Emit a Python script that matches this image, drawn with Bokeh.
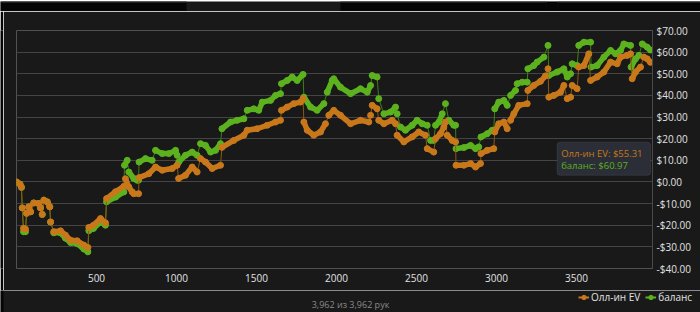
from bokeh.plotting import figure
from bokeh.models import FixedTicker, Label, BoxAnnotation, Legend, LegendItem
from bokeh.layouts import column, row
from bokeh.embed import file_html
from bokeh.resources import INLINE

# ---- data (hand number, dollars) ----
ev_points = [
    (0, 0.0), (22, -1.0), (31, -2.5), (36, -12.0), (44, -21.4), (56, -21.8), (63, -14.5),
    (77, -11.5), (88, -13.8), (108, -9.7), (139, -10.0), (150, -12.0), (161, -15.0),
    (171, -8.4), (192, -9.2), (208, -11.5), (213, -18.5), (233, -23.0), (275, -22.6),
    (306, -24.6), (338, -26.9), (379, -27.2), (421, -29.2), (446, -30.3), (452, -21.0),
    (481, -20.0), (525, -16.9), (556, -18.9), (563, -7.7), (619, -4.5), (671, -2.0),
    (681, 1.5), (702, -2.3), (723, -4.6), (733, -5.4), (763, -5.4), (766, 2.0),
    (827, 3.8), (869, 6.9), (911, 5.4), (973, 6.2), (1004, 7.7), (1013, 1.6),
    (1056, 3.1), (1098, 6.9), (1129, 4.6), (1150, 10.8), (1181, 9.2), (1223, 6.2),
    (1275, 7.7), (1284, 16.0), (1358, 19.2), (1421, 21.6), (1442, 23.9), (1504, 24.6),
    (1567, 26.2), (1619, 27.7), (1650, 28.5), (1656, 33.1), (1692, 34.6), (1733, 36.2),
    (1775, 36.9), (1791, 38.5), (1796, 27.7), (1817, 23.9), (1858, 21.6), (1900, 23.1),
    (1931, 26.9), (1952, 30.8), (1983, 33.1), (2025, 30.8), (2088, 26.9), (2150, 28.5),
    (2202, 27.7), (2213, 30.8), (2223, 35.4), (2254, 33.8), (2264, 28.5), (2296, 26.9),
    (2348, 28.5), (2369, 26.9), (2379, 21.6), (2421, 18.5), (2473, 20.8), (2514, 23.1),
    (2556, 21.6), (2567, 15.4), (2608, 13.8), (2619, 20.0), (2650, 22.3), (2671, 25.4),
    (2681, 27.7), (2692, 21.6), (2723, 19.2), (2744, 18.5), (2747, 7.7), (2796, 7.7),
    (2838, 8.5), (2869, 6.9), (2900, 8.5), (2903, 13.1), (2942, 14.6), (2983, 15.4),
    (2989, 23.1), (3014, 26.9), (3046, 27.7), (3067, 24.6), (3088, 28.5), (3108, 31.5),
    (3139, 35.4), (3192, 36.2), (3196, 42.3), (3233, 44.6), (3275, 46.5), (3306, 49.0),
    (3322, 52.3), (3327, 39.2), (3358, 40.0), (3400, 41.5), (3421, 44.6), (3442, 38.5),
    (3463, 39.2), (3473, 44.6), (3504, 43.1), (3514, 53.1), (3546, 53.8), (3577, 59.2),
    (3588, 46.9), (3629, 48.5), (3671, 50.8), (3713, 55.4), (3754, 54.6), (3775, 57.7),
    (3817, 58.5), (3838, 59.2), (3848, 47.7), (3869, 50.8), (3900, 53.1), (3921, 57.7),
    (3942, 56.9), (3962, 55.31),
]

balance_points = [
    (0, 0.0), (22, -1.0), (31, -2.5), (36, -12.0), (44, -23.0), (56, -23.0), (63, -14.5),
    (77, -11.5), (88, -13.8), (108, -9.7), (139, -10.0), (150, -12.0), (161, -15.0),
    (171, -8.4), (192, -9.2), (208, -11.5), (213, -18.5), (233, -23.5), (275, -23.5),
    (306, -26.0), (338, -28.0), (379, -28.5), (421, -31.0), (446, -32.3), (452, -22.5),
    (481, -21.5), (525, -18.5), (556, -20.0), (563, -9.2), (619, -7.0), (671, -4.6),
    (675, 7.7), (692, 10.0), (702, 4.6), (733, 1.6), (754, 0.8), (763, 0.8), (766, 9.2),
    (806, 10.8), (848, 10.0), (869, 14.6), (911, 13.1), (952, 13.1), (994, 14.6),
    (1004, 12.3), (1014, 9.2), (1056, 12.3), (1098, 13.8), (1129, 12.3), (1150, 17.7),
    (1181, 16.9), (1213, 13.8), (1244, 14.6), (1275, 17.7), (1284, 24.6), (1338, 27.7),
    (1379, 28.5), (1421, 29.2), (1442, 33.1), (1483, 33.8), (1514, 33.1), (1536, 36.9),
    (1588, 37.7), (1619, 40.0), (1650, 40.8), (1656, 45.4), (1692, 46.9), (1723, 48.5),
    (1754, 46.9), (1791, 49.7), (1796, 39.2), (1838, 34.6), (1879, 33.1), (1921, 36.2),
    (1942, 41.5), (1973, 46.9), (1983, 47.7), (2025, 43.8), (2088, 40.8), (2150, 43.1),
    (2192, 41.5), (2213, 44.6), (2223, 49.2), (2254, 48.5), (2264, 38.5), (2296, 31.5),
    (2338, 32.3), (2369, 34.6), (2379, 31.5), (2400, 25.4), (2431, 23.9), (2473, 26.2),
    (2504, 28.5), (2536, 26.9), (2567, 26.2), (2588, 19.2), (2608, 19.2), (2619, 26.2),
    (2640, 27.7), (2661, 31.5), (2681, 36.2), (2702, 28.5), (2733, 26.2), (2744, 26.2),
    (2747, 15.4), (2796, 15.9), (2838, 16.9), (2869, 15.4), (2889, 16.2), (2903, 20.8),
    (2942, 22.3), (2973, 23.9), (2983, 23.9), (2989, 33.8), (3014, 36.9), (3046, 37.7),
    (3067, 35.4), (3088, 40.0), (3119, 42.3), (3129, 45.4), (3161, 46.1), (3192, 46.1),
    (3196, 52.3), (3233, 53.8), (3254, 55.4), (3296, 57.7), (3322, 63.1), (3327, 49.2),
    (3379, 50.8), (3421, 52.3), (3442, 48.5), (3463, 50.0), (3473, 54.6), (3504, 53.8),
    (3514, 63.1), (3546, 64.6), (3588, 64.6), (3591, 53.1), (3629, 53.8), (3671, 57.7),
    (3713, 60.8), (3744, 59.2), (3775, 60.8), (3796, 63.8), (3838, 63.1), (3841, 53.1),
    (3869, 56.9), (3890, 58.5), (3911, 63.8), (3942, 62.3), (3962, 60.97),
]

series_names = ["Олл-ин EV", "баланс"]
x_ticks = [500, 1000, 1500, 2000, 2500, 3000, 3500]
y_ticks = [-40, -30, -20, -10, 0, 10, 20, 30, 40, 50, 60, 70]
y_tick_labels = ["-$40.00", "-$30.00", "-$20.00", "-$10.00", "$0.00", "$10.00",
                 "$20.00", "$30.00", "$40.00", "$50.00", "$60.00", "$70.00"]
tooltip_lines = ["Олл-ин EV: $55.31", "баланс: $60.97"]
footer_text = "3,962 из 3,962 рук"

# ---- styling ----
BG = "#191919"
DARK = "#050505"
ORANGE = "#c8781a"
ORANGE_DARK = "#8d5812"
GREEN = "#5cb21e"
GREEN_DARK = "#3f7f16"
TXT = "#e2e2e2"
FONT = "Open Sans"


def blank(w, h, xr, yr, bg=BG):
    f = figure(width=w, height=h, output_backend="svg", toolbar_location=None,
               x_range=xr, y_range=yr, x_axis_location=None, y_axis_location=None,
               background_fill_color=bg, border_fill_color=bg, margin=0,
               min_border_left=0, min_border_right=0, min_border_top=0, min_border_bottom=0)
    f.outline_line_color = None
    f.grid.visible = False
    return f


# ---- main chart ----
X_MAX = 3975
p = figure(width=697, height=279, output_backend="svg", toolbar_location=None,
           x_range=(0, X_MAX), y_range=(-40, 70), y_axis_location="right",
           background_fill_color=BG, border_fill_color=BG, margin=0,
           min_border_left=13, min_border_right=48, min_border_top=19, min_border_bottom=22)
p.outline_line_color = None
p.xgrid.visible = False
p.ygrid.grid_line_color = "#444444"
p.ygrid.grid_line_width = 1
p.ygrid.ticker = FixedTicker(ticks=y_ticks)

xa = p.xaxis[0]
xa.ticker = FixedTicker(ticks=x_ticks)
xa.axis_line_color = None
xa.major_tick_line_color = None
xa.minor_tick_line_color = None
xa.major_tick_out = 0
xa.major_tick_in = 0
xa.major_label_standoff = 5
xa.major_label_text_color = TXT
xa.major_label_text_font = FONT
xa.major_label_text_font_size = "10px"

ya = p.yaxis[0]
ya.ticker = FixedTicker(ticks=y_ticks)
ya.major_label_overrides = {t: l for t, l in zip(y_ticks, y_tick_labels)}
ya.axis_line_color = "#4a4a4a"
ya.major_tick_line_color = None
ya.minor_tick_line_color = None
ya.major_tick_out = 0
ya.major_tick_in = 0
ya.major_label_standoff = 4
ya.major_label_text_color = TXT
ya.major_label_text_font = FONT
ya.major_label_text_font_size = "10px"


def split_runs(pts):
    """Split the series at steep jumps (drawn thin) so flat runs look dense."""
    runs_x, runs_y = [], []
    cx, cy = [pts[0][0]], [pts[0][1]]
    for (x0, y0), (x1, y1) in zip(pts[:-1], pts[1:]):
        dxp = (x1 - x0) * 0.16
        dyp = abs(y1 - y0) * 2.164
        if dyp > 6 and dyp > 2.5 * dxp:
            runs_x.append(cx)
            runs_y.append(cy)
            cx, cy = [x1], [y1]
        else:
            cx.append(x1)
            cy.append(y1)
    runs_x.append(cx)
    runs_y.append(cy)
    return runs_x, runs_y


def draw(pts, color, dark):
    xs = [a for a, _ in pts]
    ys = [b for _, b in pts]
    p.line(xs, ys, line_color=dark, line_width=1)
    rx, ry = split_runs(pts)
    p.multi_line(rx, ry, line_color=color, line_width=5.5,
                 line_cap="round", line_join="round")
    p.scatter(xs, ys, size=6, fill_color=color, line_color=color)


draw(balance_points, GREEN, GREEN_DARK)
draw(ev_points, ORANGE, ORANGE_DARK)

# tooltip
p.add_layout(BoxAnnotation(left=3379, right=3963, top=18.4, bottom=3.1,
                           fill_color="#2b2e36", fill_alpha=1.0,
                           line_color="#5a5f6b", line_width=1, border_radius=3))
p.add_layout(Label(x=3404, y=13.1, text=tooltip_lines[0], text_color=ORANGE,
                   text_font=FONT, text_font_size="9.5px", text_baseline="middle"))
p.add_layout(Label(x=3404, y=7.7, text=tooltip_lines[1], text_color=GREEN,
                   text_font=FONT, text_font_size="9.5px", text_baseline="middle"))

# ---- top strip (decorative, pixel-like ranges) ----
t = blank(700, 11, (0, 700), (11, 0))
t.quad(left=[0, 340, 546, 557], right=[186, 546, 557, 700], top=[0, 0, 0, 0],
       bottom=[11, 11, 11, 11], fill_color=DARK, line_color=None)
t.segment(x0=[0, 340, 557], x1=[186, 546, 700], y0=[0.5, 0.5, 0.5], y1=[0.5, 0.5, 0.5],
          line_color="#3a3a3a", line_width=1)

# ---- left strip ----
l = blank(3, 279, (0, 3), (0, 1), bg=DARK)

# ---- bottom strip: footer text and legend ----
b = blank(700, 22, (0, 700), (312, 290))
b.quad(left=[0], right=[3], top=[290], bottom=[312], fill_color=DARK, line_color=None)
b.add_layout(Label(x=350, y=303.5, text=footer_text, text_color="#8a8a8a",
                   text_font=FONT, text_font_size="9px", text_align="center",
                   text_baseline="middle"))
# legend proxies: one point each, placed off the visible range
lo = b.line([-20, -10], [300, 300], line_color=ORANGE, line_width=2)
so = b.scatter([-15], [300], size=5, fill_color=ORANGE, line_color=ORANGE)
lg = b.line([-20, -10], [300, 300], line_color=GREEN, line_width=2)
sg = b.scatter([-15], [300], size=5, fill_color=GREEN, line_color=GREEN)
legend = Legend(items=[LegendItem(label=series_names[0], renderers=[lo, so], index=0),
                       LegendItem(label=series_names[1], renderers=[lg, sg], index=0)],
                location=(578, 8), orientation="horizontal",
                background_fill_alpha=0, border_line_alpha=0,
                label_text_color=TXT, label_text_font=FONT, label_text_font_size="10px",
                glyph_width=11, glyph_height=12, label_height=12, label_standoff=2,
                spacing=5, padding=0, margin=0)
b.add_layout(legend)

layout = column(t, row(l, p, spacing=0, margin=0), b, spacing=0, margin=0)

html = file_html(layout, INLINE)
html = html.replace("<body>", '<body style="margin:0;background:#191919;">', 1)
open("out.html", "w").write(html)
